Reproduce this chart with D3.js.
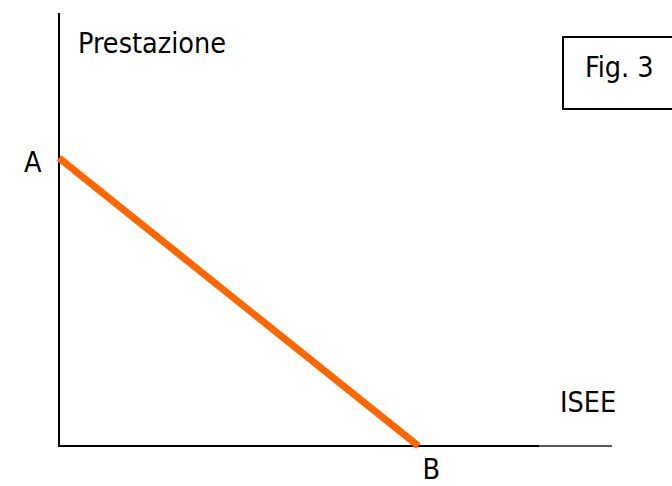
<!DOCTYPE html>
<html>
<head>
<meta charset="utf-8">
<script src="https://cdn.jsdelivr.net/npm/d3@7"></script>
<style>
  html, body { margin: 0; padding: 0; background: #fff; }
  svg { display: block; }
  text { font-family: "DejaVu Sans Condensed", "DejaVu Sans", sans-serif; font-stretch: condensed; font-size: 28.5px; fill: #000; }
</style>
</head>
<body>
<svg id="chart" width="672" height="486"></svg>
<script>
// Data
const iseeValues = [0, 65];          // x values of the line (A on axis, B on axis)
const prestazioneValues = [66.5, 0]; // y values of the line
const pointLabels = ["A", "B"];
const axisTitles = ["Prestazione", "ISEE"];
const figureLabel = "Fig. 3";

const svg = d3.select("#chart");
const x = d3.scaleLinear().domain([0, 100]).range([59, 612]);
const y = d3.scaleLinear().domain([0, 100]).range([446, 13]);

// y axis
svg.append("line")
  .attr("x1", x(0)).attr("x2", x(0))
  .attr("y1", y(100)).attr("y2", y(0))
  .attr("stroke", "#000").attr("stroke-width", 2);

// x axis (thick part then thinner part)
svg.append("line")
  .attr("x1", x(0) - 1).attr("x2", x(86.8))
  .attr("y1", y(0)).attr("y2", y(0))
  .attr("stroke", "#000").attr("stroke-width", 2);
svg.append("line")
  .attr("x1", x(86.8)).attr("x2", x(100))
  .attr("y1", y(0)).attr("y2", y(0))
  .attr("stroke", "#222").attr("stroke-width", 1.4);

// orange line
const pts = iseeValues.map((v, i) => [v, prestazioneValues[i]]);
svg.append("path")
  .datum(pts)
  .attr("d", d3.line().x(d => x(d[0])).y(d => y(d[1])))
  .attr("fill", "none")
  .attr("stroke", "#FF6600")
  .attr("stroke-width", 7);

// labels
svg.append("text").attr("x", 78).attr("y", 53).text(axisTitles[0]);
svg.append("text").attr("x", 560).attr("y", 412).text(axisTitles[1]);
svg.append("text").attr("x", x(0) - 35).attr("y", y(prestazioneValues[0]) + 14)
  .text(pointLabels[0]);
svg.append("text").attr("x", x(iseeValues[1]) + 4).attr("y", 479)
  .text(pointLabels[1]);

// Fig. 3 box
svg.append("rect")
  .attr("x", 563).attr("y", 37).attr("width", 120).attr("height", 72)
  .attr("fill", "none").attr("stroke", "#000").attr("stroke-width", 2);
svg.append("text").attr("x", 585).attr("y", 77).text(figureLabel);
</script>
</body>
</html>
